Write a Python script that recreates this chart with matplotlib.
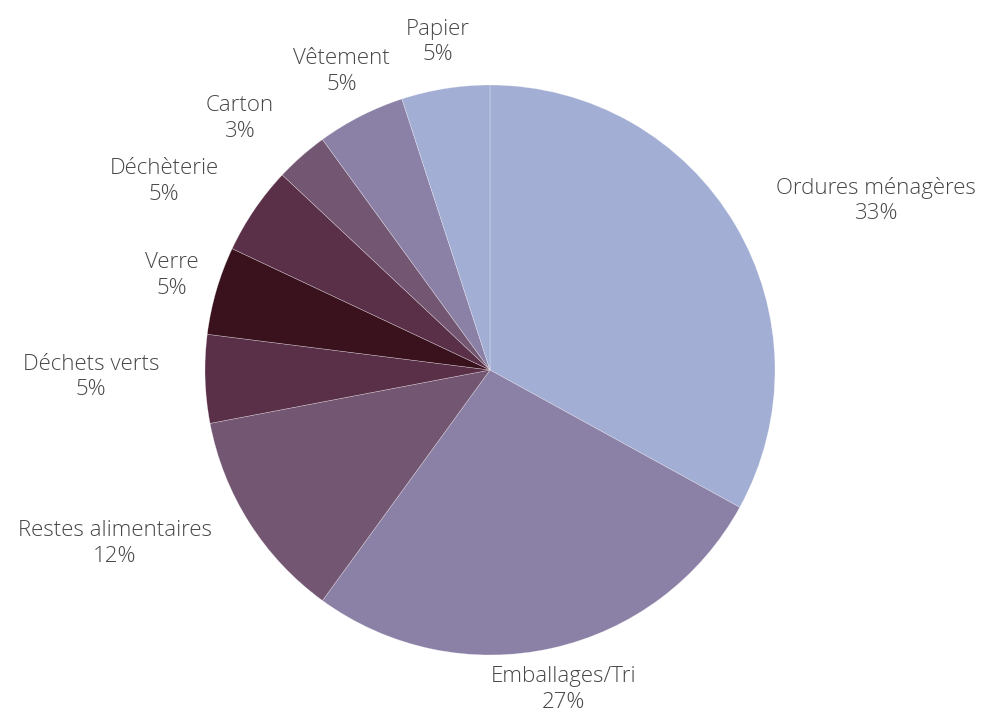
import numpy as np
import matplotlib.pyplot as plt

# Waste categories, clockwise from the top
categories = ['Ordures ménagères', 'Emballages/Tri', 'Restes alimentaires',
              'Déchets verts', 'Verre', 'Déchèterie', 'Carton', 'Vêtement', 'Papier']
shares = [33, 27, 12, 5, 5, 5, 3, 5, 5]

colors = ['#A3AED4', '#8B80A6', '#735672', '#5A2F48', '#3A121E',
          '#5A2F48', '#735672', '#8B80A6', '#A3AED4']

# label placement (distance in pie radii, angle nudge in degrees)
label_dist = [1.48, 1.15, 1.45, 1.40, 1.165, 1.32, 1.245, 1.17, 1.165]
label_nudge = [-6.9, 0.3, -7.6, -0.8, -0.4, 4.2, 3.4, -0.6, 0.0]

plt.rcParams['font.family'] = ['Open Sans', 'DejaVu Sans']

fig = plt.figure(figsize=(9.84, 7.18), dpi=100)
ax = fig.add_axes([0, 0, 1, 1])

wedges, _ = ax.pie(shares, colors=colors, startangle=90, counterclock=False,
                   radius=1.0,
                   wedgeprops=dict(edgecolor=(1, 1, 1, 0.45), linewidth=0.4))

total = float(sum(shares))
start = 90.0
for i, (name, val) in enumerate(zip(categories, shares)):
    mid = start - 360.0 * (val / total) / 2.0
    start -= 360.0 * val / total
    ang = np.deg2rad(mid + label_nudge[i])
    x = label_dist[i] * np.cos(ang)
    y = label_dist[i] * np.sin(ang)
    ax.text(x, y, f"{name}\n{val}%", ha='center', va='center', fontsize=16,
            color='#474747', linespacing=1.3, fontweight='light')

ax.set_xlim(-490 / 285, (984 - 490) / 285)
ax.set_ylim(-348 / 285, 370 / 285)
ax.set_aspect('auto')
ax.axis('off')

fig.savefig('out.png', dpi=100, facecolor='white')
